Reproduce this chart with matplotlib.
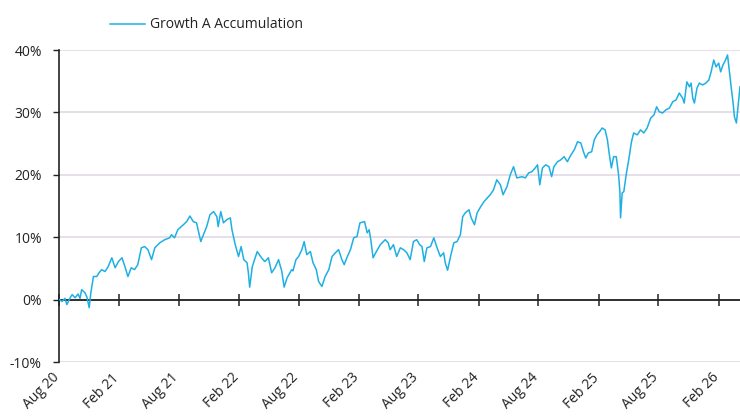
import matplotlib
matplotlib.use("Agg")
import matplotlib.pyplot as plt
import matplotlib.ticker as mticker
import matplotlib.transforms as mtransforms
import pandas as pd

plt.rcParams['font.family'] = ['Open Sans', 'DejaVu Sans']

series_name = "Growth A Accumulation"

dates = [
    "2020-08-03", "2020-08-10", "2020-08-19", "2020-08-25", "2020-09-04", "2020-09-10",
    "2020-09-19", "2020-09-28", "2020-10-04", "2020-10-09", "2020-10-19", "2020-10-25",
    "2020-11-01", "2020-11-06", "2020-11-14", "2020-11-24", "2020-12-01", "2020-12-09",
    "2020-12-19", "2020-12-28", "2021-01-09", "2021-01-19", "2021-01-29", "2021-02-09",
    "2021-02-19", "2021-02-27", "2021-03-09", "2021-03-19", "2021-03-29", "2021-04-09",
    "2021-04-19", "2021-04-29", "2021-05-10", "2021-05-20", "2021-06-04", "2021-06-19",
    "2021-07-04", "2021-07-10", "2021-07-19", "2021-07-29", "2021-08-15", "2021-08-25",
    "2021-09-04", "2021-09-14", "2021-09-24", "2021-10-07", "2021-10-15", "2021-10-25",
    "2021-11-04", "2021-11-15", "2021-11-25", "2021-11-29", "2021-12-07", "2021-12-15",
    "2021-12-25", "2022-01-05", "2022-01-10", "2022-01-20", "2022-01-30", "2022-02-07",
    "2022-02-15", "2022-02-25", "2022-03-01", "2022-03-05", "2022-03-13", "2022-03-20",
    "2022-03-28", "2022-04-10", "2022-04-20", "2022-05-01", "2022-05-11", "2022-05-21",
    "2022-06-01", "2022-06-11", "2022-06-18", "2022-06-27", "2022-07-11", "2022-07-15",
    "2022-07-24", "2022-08-01", "2022-08-11", "2022-08-18", "2022-08-26", "2022-09-06",
    "2022-09-14", "2022-09-24", "2022-10-01", "2022-10-11", "2022-10-21", "2022-11-01",
    "2022-11-11", "2022-11-21", "2022-12-01", "2022-12-11", "2022-12-18", "2022-12-26",
    "2023-01-06", "2023-01-16", "2023-01-26", "2023-02-04", "2023-02-11", "2023-02-18",
    "2023-02-26", "2023-03-04", "2023-03-09", "2023-03-16", "2023-03-26", "2023-04-07",
    "2023-04-22", "2023-05-01", "2023-05-07", "2023-05-17", "2023-05-27", "2023-06-07",
    "2023-06-17", "2023-06-27", "2023-07-07", "2023-07-17", "2023-07-27", "2023-08-05",
    "2023-08-12", "2023-08-19", "2023-08-27", "2023-09-07", "2023-09-17", "2023-09-27",
    "2023-10-07", "2023-10-17", "2023-10-22", "2023-10-29", "2023-11-07", "2023-11-17",
    "2023-11-27", "2023-12-07", "2023-12-14", "2023-12-22", "2024-01-02", "2024-01-09",
    "2024-01-19", "2024-01-27", "2024-02-07", "2024-02-17", "2024-02-27", "2024-03-07",
    "2024-03-17", "2024-03-27", "2024-04-07", "2024-04-15", "2024-04-27", "2024-05-07",
    "2024-05-17", "2024-05-27", "2024-06-12", "2024-06-22", "2024-07-02", "2024-07-12",
    "2024-07-22", "2024-07-29", "2024-08-05", "2024-08-13", "2024-08-23", "2024-09-02",
    "2024-09-10", "2024-09-17", "2024-09-28", "2024-10-08", "2024-10-18", "2024-10-28",
    "2024-11-08", "2024-11-18", "2024-11-28", "2024-12-08", "2024-12-16", "2024-12-23",
    "2024-12-31", "2025-01-10", "2025-01-18", "2025-01-26", "2025-02-03", "2025-02-11",
    "2025-02-20", "2025-02-27", "2025-03-05", "2025-03-11", "2025-03-18", "2025-03-26",
    "2025-04-02", "2025-04-06", "2025-04-08", "2025-04-13", "2025-04-18", "2025-04-26",
    "2025-05-03", "2025-05-11", "2025-05-18", "2025-05-29", "2025-06-08", "2025-06-18",
    "2025-06-28", "2025-07-09", "2025-07-19", "2025-07-27", "2025-08-04", "2025-08-14",
    "2025-08-24", "2025-09-04", "2025-09-14", "2025-09-24", "2025-10-04", "2025-10-14",
    "2025-10-19", "2025-10-27", "2025-11-04", "2025-11-09", "2025-11-14", "2025-11-19",
    "2025-11-27", "2025-12-04", "2025-12-14", "2025-12-24", "2026-01-02", "2026-01-09",
    "2026-01-17", "2026-01-24", "2026-02-01", "2026-02-07", "2026-02-14", "2026-02-22",
    "2026-02-28", "2026-03-04", "2026-03-11", "2026-03-17", "2026-03-21", "2026-03-27",
    "2026-04-01", "2026-04-07",
]

values = [
    0.0, -0.3, 0.2, -0.8, 0.3, 0.8,
    0.3, 0.9, 0.2, 1.6, 1.1, 0.4,
    -1.3, 1.1, 3.7, 3.7, 4.3, 4.8,
    4.5, 5.2, 6.7, 5.1, 6.1, 6.7,
    5.1, 3.7, 5.1, 4.8, 5.6, 8.3,
    8.5, 8.0, 6.4, 8.3, 9.1, 9.6,
    9.9, 10.4, 9.9, 11.2, 12.0, 12.5,
    13.4, 12.5, 12.3, 9.3, 10.4, 11.7,
    13.6, 14.1, 13.3, 11.7, 14.1, 12.3,
    12.8, 13.1, 11.2, 8.8, 6.9, 8.5,
    6.4, 5.9, 4.3, 2.0, 5.3, 6.4,
    7.7, 6.7, 6.1, 6.7, 4.3, 5.1,
    6.4, 4.5, 2.0, 3.5, 4.8, 4.6,
    6.4, 6.9, 8.0, 9.3, 7.2, 7.7,
    5.9, 4.8, 2.9, 2.1, 3.7, 4.8,
    6.9, 7.5, 8.0, 6.4, 5.6, 6.7,
    8.0, 9.9, 10.1, 12.3, 12.4, 12.5,
    10.7, 11.2, 9.6, 6.7, 7.7, 8.8,
    9.6, 9.1, 8.0, 8.8, 6.9, 8.3,
    8.0, 7.5, 6.4, 9.3, 9.6, 8.8,
    8.5, 6.1, 8.3, 8.5, 9.9, 8.3,
    6.9, 7.5, 5.9, 4.7, 6.9, 9.1,
    9.3, 10.4, 13.3, 13.9, 14.4, 13.1,
    12.0, 13.9, 14.9, 15.7, 16.3, 16.8,
    17.6, 19.2, 18.4, 16.8, 18.1, 20.0,
    21.3, 19.5, 19.7, 19.5, 20.3, 20.5,
    21.1, 21.6, 18.4, 21.1, 21.6, 21.3,
    19.7, 21.3, 22.1, 22.4, 22.9, 22.1,
    23.2, 24.0, 25.3, 25.1, 23.7, 22.7,
    23.5, 23.7, 25.6, 26.4, 26.9, 27.5,
    27.2, 25.6, 23.2, 21.1, 22.9, 22.9,
    20.0, 17.3, 13.1, 17.1, 17.3, 20.3,
    22.4, 25.2, 26.7, 26.4, 27.2, 26.7,
    27.5, 29.1, 29.6, 30.9, 30.1, 29.9,
    30.4, 30.7, 31.7, 32.0, 33.1, 32.3,
    31.5, 34.9, 34.1, 34.7, 32.3, 31.5,
    33.9, 34.7, 34.4, 34.7, 35.2, 36.5,
    38.4, 37.3, 37.9, 36.5, 37.6, 38.4,
    39.2, 37.3, 34.1, 31.5, 29.3, 28.3,
    30.9, 34.1,
]

tick_dates = ["2020-08-01", "2021-02-01", "2021-08-01", "2022-02-01", "2022-08-01",
              "2023-02-01", "2023-08-01", "2024-02-01", "2024-08-01", "2025-02-01",
              "2025-08-01", "2026-02-01"]
tick_labels = ["Aug 20", "Feb 21", "Aug 21", "Feb 22", "Aug 22", "Feb 23",
               "Aug 23", "Feb 24", "Aug 24", "Feb 25", "Aug 25", "Feb 26"]
y_ticks = [-10, 0, 10, 20, 30, 40]

x = pd.to_datetime(dates)
xt = pd.to_datetime(tick_dates)

fig = plt.figure(figsize=(7.4, 4.16), dpi=100)
ax = fig.add_axes([59 / 740, 1 - 362 / 416, 1 - 59 / 740, (362 - 50) / 416])

line_color = "#1fb0e3"
ax.plot(x, values, color=line_color, linewidth=1.1, label=series_name, zorder=3)

ax.set_ylim(-10, 40)
ax.set_xlim(pd.Timestamp("2020-08-01"), x[-1])

ax.set_yticks(y_ticks)
ax.yaxis.set_major_formatter(mticker.FuncFormatter(lambda v, p: f"{int(v)}%"))
ax.grid(axis="y", color="#e6dfea", linewidth=1.4, zorder=0)
ax.set_axisbelow(True)

for s in ["top", "right", "bottom"]:
    ax.spines[s].set_visible(False)
ax.spines["left"].set_color("#222222")
ax.spines["left"].set_linewidth(1.2)

ax.tick_params(axis="y", direction="out", length=4.3, width=1.0, pad=8,
               labelsize=10, colors="#222222")

# labels at bottom, no tick marks
ax.set_xticks(xt)
ax.set_xticklabels(tick_labels, rotation=45, ha="right", rotation_mode="default")
ax.tick_params(axis="x", length=0, pad=6, labelsize=10, colors="#222222")
offset = mtransforms.ScaledTranslation(3 / 100, 0, fig.dpi_scale_trans)
for lbl in ax.get_xticklabels():
    lbl.set_transform(lbl.get_transform() + offset)

# zero axis line with crossing ticks
sec = ax.secondary_xaxis(0.2)
sec.set_xticks(xt)
sec.set_xticklabels([])
sec.spines["bottom"].set_color("#222222")
sec.spines["bottom"].set_linewidth(1.3)
sec.set_zorder(2)
sec.tick_params(axis="x", direction="inout", length=8, width=1.1, colors="#222222")

fig.legend(loc="center left", bbox_to_anchor=(103 / 740, 1 - 25 / 416), frameon=False,
           borderpad=0, handlelength=2.5, handletextpad=0.35, fontsize=10,
           labelcolor="#222222")

fig.savefig("out.png", dpi=100)
